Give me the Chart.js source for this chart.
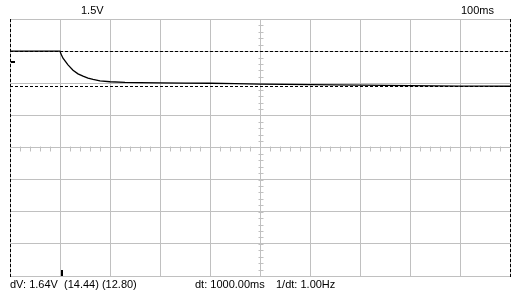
<!DOCTYPE html>
<html>
<head>
<meta charset="utf-8">
<script src="https://cdn.jsdelivr.net/npm/chart.js@4"></script>
<style>
  body { margin: 0; background: #fff; }
  #wrap { position: relative; width: 522px; height: 299px; font: 11px "Liberation Sans", Arial, sans-serif; color: #000; }
  #scope { position: absolute; left: 0; top: 0; }
  .lbl { position: absolute; white-space: pre; line-height: 12px; }
</style>
</head>
<body>
<div id="wrap">
  <canvas id="scope" width="522" height="299"></canvas>
  <span class="lbl" style="left:81px;top:4px">1.5V</span>
  <span class="lbl" style="left:461px;top:4px">100ms</span>
  <span class="lbl" style="left:10px;top:278px">dV: 1.64V  (14.44) (12.80)</span>
  <span class="lbl" style="left:195px;top:278px">dt: 1000.00ms</span>
  <span class="lbl" style="left:276px;top:278px">1/dt: 1.00Hz</span>
</div>
<script>
  // trace (time in ms, level in V)
  var timesMs = [0, 50, 100, 102, 106, 116, 126, 136, 146, 156, 166, 180, 200, 230, 260, 300, 350, 400, 450, 500, 550, 600, 650, 700, 750, 800, 850, 900, 950, 1000];
  var volts = [14.44, 14.44, 14.44, 14.30, 14.11, 13.80, 13.55, 13.38, 13.27, 13.18, 13.12, 13.05, 13.01, 12.98, 12.97, 12.96, 12.95, 12.94, 12.92, 12.90, 12.89, 12.88, 12.86, 12.85, 12.84, 12.83, 12.82, 12.81, 12.81, 12.80];

  // cursors and markers
  var cursorVolts = [14.44, 12.80];
  var cursorTimesMs = [0, 1000];
  var triggerTimesMs = [100];
  var levelMarkerVolts = [13.93];

  // screen span: 10 x 100ms, 8 x 1.5V
  var msPerDiv = 100;
  var voltsPerDiv = 1.5;
  var yMin = 3.94;
  var yMax = 15.94;

  var gridGray = "#c0c0c0";

  var scopeOverlay = {
    id: "scopeOverlay",
    beforeDatasetsDraw: function (chart) {
      var ctx = chart.ctx;
      var xs = chart.scales.x;
      var ys = chart.scales.y;
      var cx = Math.round(xs.getPixelForValue(xs.max / 2)) + 0.5;
      var cy = Math.round(ys.getPixelForValue((yMin + yMax) / 2)) + 0.5;
      ctx.save();
      ctx.strokeStyle = gridGray;
      ctx.lineWidth = 1;
      ctx.beginPath();
      for (var t = xs.min; t <= xs.max; t += msPerDiv / 5) {
        var px = Math.round(xs.getPixelForValue(t)) + 0.5;
        ctx.moveTo(px, cy - 2);
        ctx.lineTo(px, cy + 3);
      }
      for (var v = yMin; v <= yMax + 0.001; v += voltsPerDiv / 5) {
        var py = Math.round(ys.getPixelForValue(v)) + 0.5;
        ctx.moveTo(cx - 2, py);
        ctx.lineTo(cx + 3, py);
      }
      ctx.stroke();
      ctx.restore();
    },
    afterDatasetsDraw: function (chart) {
      var ctx = chart.ctx;
      var xs = chart.scales.x;
      var ys = chart.scales.y;
      var area = chart.chartArea;
      ctx.save();
      ctx.strokeStyle = "#000";
      ctx.lineWidth = 1;
      ctx.setLineDash([3, 2]);
      cursorVolts.forEach(function (v) {
        var py = Math.round(ys.getPixelForValue(v)) + 0.5;
        ctx.beginPath();
        ctx.moveTo(area.left, py);
        ctx.lineTo(area.right + 1, py);
        ctx.stroke();
      });
      cursorTimesMs.forEach(function (t) {
        var px = Math.round(xs.getPixelForValue(t)) + 0.5;
        ctx.beginPath();
        ctx.moveTo(px, area.top);
        ctx.lineTo(px, area.bottom + 1);
        ctx.stroke();
      });
      ctx.setLineDash([]);
      ctx.fillStyle = "#000";
      triggerTimesMs.forEach(function (t) {
        var px = Math.round(xs.getPixelForValue(t));
        ctx.fillRect(px + 1, area.bottom - 6, 2, 6);
      });
      levelMarkerVolts.forEach(function (v) {
        var py = Math.round(ys.getPixelForValue(v));
        ctx.fillRect(area.left + 1, py - 1, 4, 2);
      });
      ctx.restore();
    }
  };

  new Chart(document.getElementById("scope"), {
    type: "line",
    data: {
      datasets: [{
        data: timesMs.map(function (t, i) { return { x: t, y: volts[i] }; }),
        borderColor: "#000",
        borderWidth: 1.3,
        pointRadius: 0,
        tension: 0,
        fill: false
      }]
    },
    options: {
      responsive: false,
      animation: false,
      events: [],
      layout: { padding: { left: 10, right: 12, top: 19, bottom: 23 } },
      plugins: { legend: { display: false }, tooltip: { enabled: false } },
      scales: {
        x: {
          type: "linear",
          min: 0,
          max: 10 * msPerDiv,
          ticks: { display: false, stepSize: msPerDiv },
          grid: { color: gridGray, drawTicks: false, lineWidth: 1 },
          border: { color: gridGray }
        },
        y: {
          type: "linear",
          min: yMin,
          max: yMax,
          ticks: { display: false },
          afterBuildTicks: function (scale) {
            var ticks = [];
            for (var k = 0; k <= 8; k++) ticks.push({ value: yMin + k * voltsPerDiv });
            scale.ticks = ticks;
          },
          grid: { color: gridGray, drawTicks: false, lineWidth: 1 },
          border: { color: gridGray }
        }
      }
    },
    plugins: [scopeOverlay]
  });
</script>
</body>
</html>
